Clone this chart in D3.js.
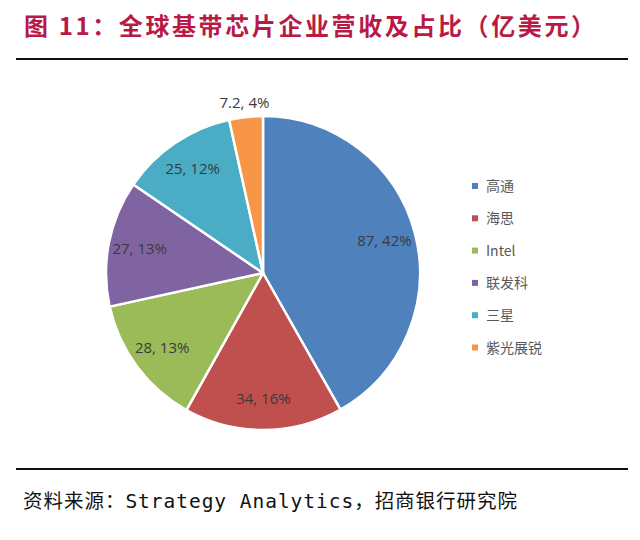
<!DOCTYPE html>
<html>
<head>
<meta charset="utf-8">
<script src="https://cdn.jsdelivr.net/npm/d3@7/dist/d3.min.js"></script>
<style>
html,body{margin:0;padding:0;background:#fff;}
svg{display:block;}
</style>
</head>
<body>
<svg id="chart" width="640" height="540"></svg>
<script>
const categories = ["高通", "海思", "Intel", "联发科", "三星", "紫光展锐"];
const values = [87, 34, 28, 27, 25, 7.2];
const percentLabels = ["42%", "16%", "13%", "13%", "12%", "4%"];
const colors = ["#4F81BD", "#C0504D", "#9BBB59", "#8064A2", "#4BACC6", "#F79646"];
const titleText = "图 11：全球基带芯片企业营收及占比（亿美元）";
const sourceText = "资料来源：Strategy Analytics，招商银行研究院";

const svg = d3.select("#chart");

// Title
svg.append("text")
  .attr("x", 24).attr("y", 35)
  .attr("font-family", "'Noto Sans CJK SC', sans-serif")
  .attr("font-weight", "bold")
  .attr("font-size", 24)
  .attr("fill", "#B81A45")
  .attr("textLength", 571)
  .attr("lengthAdjust", "spacing")
  .text(titleText);

// Rules
svg.append("line").attr("x1", 16).attr("x2", 628).attr("y1", 59).attr("y2", 59)
  .attr("stroke", "#111").attr("stroke-width", 2);
svg.append("line").attr("x1", 16).attr("x2", 628).attr("y1", 469).attr("y2", 469)
  .attr("stroke", "#111").attr("stroke-width", 2);

// Source
svg.append("text")
  .attr("x", 23).attr("y", 508)
  .attr("font-family", "'DejaVu Sans Mono', 'Noto Sans CJK SC', monospace")
  .attr("font-size", 19.5)
  .attr("fill", "#111")
  .attr("textLength", 494)
  .attr("lengthAdjust", "spacing")
  .text(sourceText);

// Pie
const cx = 263, cy = 273, R = 157;
const g = svg.append("g").attr("transform", `translate(${cx},${cy})`);
const pie = d3.pie().sort(null).value(d => d.v);
const data = categories.map((c, i) => ({c, v: values[i], p: percentLabels[i], col: colors[i]}));
const arcs = pie(data);
const arc = d3.arc().innerRadius(0).outerRadius(R);

g.selectAll("path").data(arcs).join("path")
  .attr("d", arc)
  .attr("fill", d => d.data.col)
  .attr("stroke", "#fff")
  .attr("stroke-width", 2.5)
  .attr("stroke-linejoin", "round");

const total = d3.sum(values);
const inArc = d3.arc().innerRadius(R * 0.8).outerRadius(R * 0.8);
const outArc = d3.arc().innerRadius(R * 1.09).outerRadius(R * 1.09);
g.selectAll("text.lbl").data(arcs).join("text")
  .attr("class", "lbl")
  .attr("transform", d => {
    const small = d.data.v / total < 0.05;
    const [x, y] = small ? outArc.centroid(d) : inArc.centroid(d);
    return `translate(${x},${y})`;
  })
  .attr("text-anchor", "middle")
  .attr("dy", "0.35em")
  .attr("font-family", "'Open Sans', 'Noto Sans', sans-serif")
  .attr("font-size", 15)
  .attr("fill", "#3A3A3A")
  .text(d => `${d.data.v}, ${d.data.p}`);

// Legend
const legend = svg.append("g").attr("transform", "translate(472,186)");
const ly = d3.scalePoint().domain(categories).range([0, 161.5]);
const items = legend.selectAll("g").data(data).join("g")
  .attr("transform", d => `translate(0,${ly(d.c)})`);
items.append("rect").attr("x", 0).attr("y", -3).attr("width", 6).attr("height", 6)
  .attr("fill", d => d.col);
items.append("text").attr("x", 14).attr("y", 0).attr("dy", "0.36em")
  .attr("font-family", "'Noto Sans CJK SC', 'Open Sans', sans-serif")
  .attr("font-size", 14)
  .attr("fill", "#595959")
  .text(d => d.c);
</script>
</body>
</html>
